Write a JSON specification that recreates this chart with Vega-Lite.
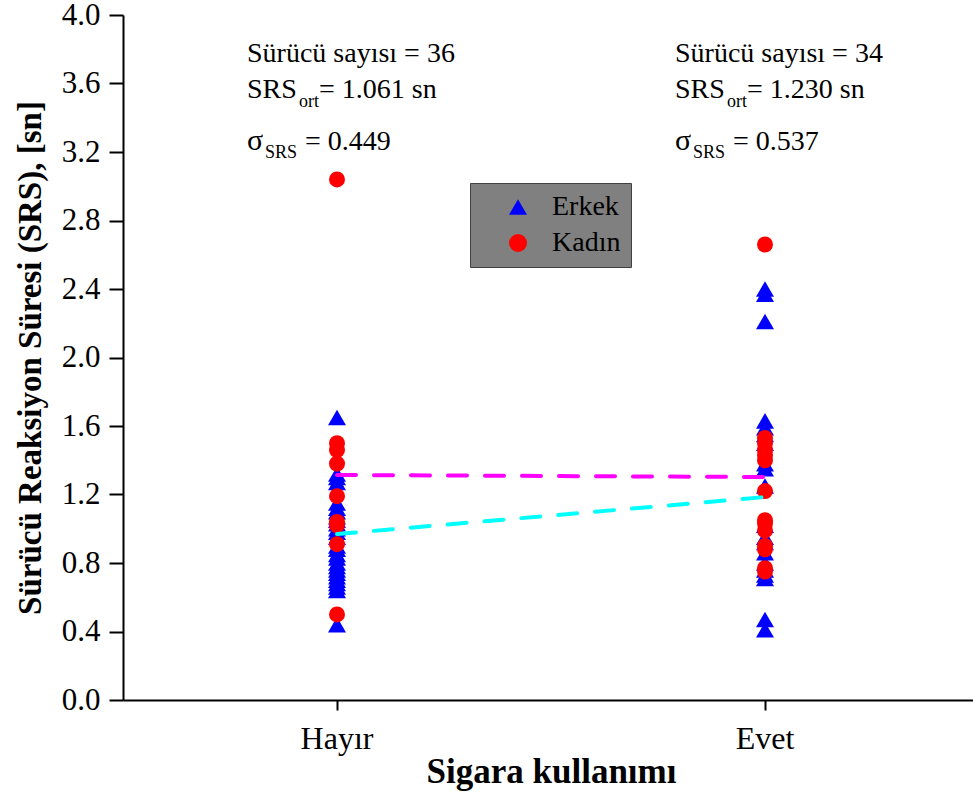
{
  "$schema": "https://vega.github.io/schema/vega-lite/v6.json",
  "width": 850,
  "height": 685,
  "autosize": {"type": "none"},
  "padding": {"left": 123, "top": 15, "right": 0, "bottom": 94},
  "background": "white",
  "config": {"view": {"stroke": null}, "font": "Liberation Serif"},
  "datasets": {
    "pts": [
      {"s": "Hayır", "g": "Erkek", "v": 1.65}, {"s": "Hayır", "g": "Erkek", "v": 1.32}, {"s": "Hayır", "g": "Erkek", "v": 1.30},
      {"s": "Hayır", "g": "Erkek", "v": 1.27}, {"s": "Hayır", "g": "Erkek", "v": 1.15}, {"s": "Hayır", "g": "Erkek", "v": 1.12},
      {"s": "Hayır", "g": "Erkek", "v": 1.10}, {"s": "Hayır", "g": "Erkek", "v": 1.07}, {"s": "Hayır", "g": "Erkek", "v": 1.05},
      {"s": "Hayır", "g": "Erkek", "v": 1.03}, {"s": "Hayır", "g": "Erkek", "v": 1.00}, {"s": "Hayır", "g": "Erkek", "v": 0.98},
      {"s": "Hayır", "g": "Erkek", "v": 0.95}, {"s": "Hayır", "g": "Erkek", "v": 0.90}, {"s": "Hayır", "g": "Erkek", "v": 0.88},
      {"s": "Hayır", "g": "Erkek", "v": 0.85}, {"s": "Hayır", "g": "Erkek", "v": 0.83}, {"s": "Hayır", "g": "Erkek", "v": 0.80},
      {"s": "Hayır", "g": "Erkek", "v": 0.78}, {"s": "Hayır", "g": "Erkek", "v": 0.76}, {"s": "Hayır", "g": "Erkek", "v": 0.74},
      {"s": "Hayır", "g": "Erkek", "v": 0.72}, {"s": "Hayır", "g": "Erkek", "v": 0.70}, {"s": "Hayır", "g": "Erkek", "v": 0.68},
      {"s": "Hayır", "g": "Erkek", "v": 0.66}, {"s": "Hayır", "g": "Erkek", "v": 0.64}, {"s": "Hayır", "g": "Erkek", "v": 0.44},
      {"s": "Hayır", "g": "Kadın", "v": 3.04}, {"s": "Hayır", "g": "Kadın", "v": 1.50}, {"s": "Hayır", "g": "Kadın", "v": 1.46},
      {"s": "Hayır", "g": "Kadın", "v": 1.38}, {"s": "Hayır", "g": "Kadın", "v": 1.19}, {"s": "Hayır", "g": "Kadın", "v": 1.04},
      {"s": "Hayır", "g": "Kadın", "v": 1.02}, {"s": "Hayır", "g": "Kadın", "v": 0.91}, {"s": "Hayır", "g": "Kadın", "v": 0.50},
      {"s": "Evet", "g": "Erkek", "v": 2.40}, {"s": "Evet", "g": "Erkek", "v": 2.37}, {"s": "Evet", "g": "Erkek", "v": 2.21},
      {"s": "Evet", "g": "Erkek", "v": 1.63}, {"s": "Evet", "g": "Erkek", "v": 1.59}, {"s": "Evet", "g": "Erkek", "v": 1.55},
      {"s": "Evet", "g": "Erkek", "v": 1.50}, {"s": "Evet", "g": "Erkek", "v": 1.38}, {"s": "Evet", "g": "Erkek", "v": 1.35},
      {"s": "Evet", "g": "Erkek", "v": 1.25}, {"s": "Evet", "g": "Erkek", "v": 1.02}, {"s": "Evet", "g": "Erkek", "v": 0.95},
      {"s": "Evet", "g": "Erkek", "v": 0.92}, {"s": "Evet", "g": "Erkek", "v": 0.86}, {"s": "Evet", "g": "Erkek", "v": 0.80},
      {"s": "Evet", "g": "Erkek", "v": 0.76}, {"s": "Evet", "g": "Erkek", "v": 0.73}, {"s": "Evet", "g": "Erkek", "v": 0.71},
      {"s": "Evet", "g": "Erkek", "v": 0.47}, {"s": "Evet", "g": "Erkek", "v": 0.41},
      {"s": "Evet", "g": "Kadın", "v": 2.66}, {"s": "Evet", "g": "Kadın", "v": 1.53}, {"s": "Evet", "g": "Kadın", "v": 1.50},
      {"s": "Evet", "g": "Kadın", "v": 1.46}, {"s": "Evet", "g": "Kadın", "v": 1.43}, {"s": "Evet", "g": "Kadın", "v": 1.40},
      {"s": "Evet", "g": "Kadın", "v": 1.22}, {"s": "Evet", "g": "Kadın", "v": 1.05}, {"s": "Evet", "g": "Kadın", "v": 1.03},
      {"s": "Evet", "g": "Kadın", "v": 0.99}, {"s": "Evet", "g": "Kadın", "v": 0.90}, {"s": "Evet", "g": "Kadın", "v": 0.88},
      {"s": "Evet", "g": "Kadın", "v": 0.77}, {"s": "Evet", "g": "Kadın", "v": 0.75}
    ],
    "means": [
      {"s": "Hayır", "g": "Erkek", "v": 0.969}, {"s": "Evet", "g": "Erkek", "v": 1.185},
      {"s": "Hayır", "g": "Kadın", "v": 1.314}, {"s": "Evet", "g": "Kadın", "v": 1.302}
    ],
    "ann": [
      {"s": "Hayır", "n": "Sürücü sayısı = 36", "srs": "= 1.061 sn", "sd": "= 0.449"},
      {"s": "Evet", "n": "Sürücü sayısı = 34", "srs": "= 1.230 sn", "sd": "= 0.537"}
    ]
  },
  "layer": [
    {
      "mark": {"type": "rule", "color": "#808080", "strokeWidth": 1, "strokeDash": [7, 6]},
      "encoding": {"x": {"datum": "Evet", "type": "nominal", "bandPosition": 0}}
    },
    {
      "mark": {"type": "rule", "color": "black", "strokeWidth": 2},
      "encoding": {"y": {"datum": 4, "type": "quantitative"}}
    },
    {
      "data": {"name": "pts"},
      "transform": [{"filter": "datum.g === 'Erkek'"}],
      "mark": {"type": "point", "filled": true, "opacity": 1, "size": 324, "strokeWidth": 0},
      "encoding": {
        "x": {
          "field": "s", "type": "nominal",
          "scale": {"type": "band", "domain": ["Hayır", "Evet"], "range": [0, 856], "paddingInner": 0, "paddingOuter": 0},
          "title": "Sigara kullanımı",
          "axis": {
            "labelAngle": 0, "labelAlign": "center", "labelFontSize": 32, "labelFont": "Liberation Serif", "labelColor": "black",
            "tickSize": 10, "tickWidth": 2, "tickColor": "black", "domainWidth": 2, "domainColor": "black",
            "labelPadding": 28, "titleFontSize": 35, "titleFontWeight": "bold", "titleFont": "Liberation Serif",
            "titleColor": "black", "titlePadding": 0, "grid": false
          }
        },
        "y": {
          "field": "v", "type": "quantitative",
          "scale": {"domain": [0, 4], "nice": false},
          "title": "Sürücü Reaksiyon Süresi (SRS), [sn]",
          "axis": {
            "values": [0, 0.2, 0.4, 0.6, 0.8, 1.0, 1.2, 1.4, 1.6, 1.8, 2.0, 2.2, 2.4, 2.6, 2.8, 3.0, 3.2, 3.4, 3.6, 3.8, 4.0],
            "format": ".1f",
            "labelExpr": "round(datum.value * 5) % 2 == 0 ? datum.label : ''",
            "tickSize": {"condition": {"test": "round(datum.value * 5) % 2 == 0", "value": 14}, "value": 8},
            "tickWidth": 2, "tickColor": "black", "domainWidth": 2, "domainColor": "black",
            "labelFontSize": 31, "labelFont": "Liberation Serif", "labelColor": "black", "labelPadding": 9,
            "labelOverlap": false, "labelFlush": false,
            "titleFontSize": 33, "titleFontWeight": "bold", "titleFont": "Liberation Serif", "titleColor": "black",
            "titlePadding": 14, "grid": false
          }
        },
        "color": {
          "field": "g", "type": "nominal",
          "scale": {"domain": ["Erkek", "Kadın"], "range": ["#0000ff", "#ff0000"]},
          "legend": {
            "title": null, "orient": "none", "legendX": 347, "legendY": 168,
            "fillColor": "#808080", "strokeColor": "#404040", "padding": 10,
            "symbolOffset": 24, "labelOffset": 20, "labelFont": "Liberation Serif", "labelFontSize": 28,
            "rowPadding": 8, "symbolStrokeWidth": 0, "symbolSize": 324,
            "encode": {
              "legend": {"update": {"strokeWidth": {"value": 3}}},
              "labels": {"update": {"fill": {"signal": "datum.value === 'Erkek' ? '#0000ff' : '#ff0000'"}}},
              "symbols": {"update": {"size": {"signal": "datum.value === 'Erkek' ? 324 : 256"}}}
            }
          }
        },
        "shape": {
          "field": "g", "type": "nominal",
          "scale": {"domain": ["Erkek", "Kadın"], "range": ["triangle-up", "circle"]}
        }
      }
    },
    {
      "data": {"name": "pts"},
      "transform": [{"filter": "datum.g === 'Kadın'"}],
      "mark": {"type": "point", "filled": true, "opacity": 1, "size": 256, "strokeWidth": 0},
      "encoding": {
        "x": {"field": "s", "type": "nominal"},
        "y": {"field": "v", "type": "quantitative"},
        "color": {"field": "g", "type": "nominal"},
        "shape": {"field": "g", "type": "nominal"}
      }
    },
    {
      "data": {"name": "means"},
      "mark": {"type": "line", "strokeWidth": 4, "strokeDash": [19, 18], "strokeCap": "round"},
      "encoding": {
        "x": {"field": "s", "type": "nominal"},
        "y": {"field": "v", "type": "quantitative"},
        "stroke": {"field": "g", "type": "nominal", "scale": {"domain": ["Erkek", "Kadın"], "range": ["#00ffff", "#ff00ff"]}, "legend": null}
      }
    },
    {
      "data": {"name": "ann"},
      "mark": {"type": "text", "align": "left", "baseline": "alphabetic", "dx": -90, "fontSize": 28, "font": "Liberation Serif", "color": "black"},
      "encoding": {"x": {"field": "s", "type": "nominal"}, "y": {"datum": 3.727, "type": "quantitative"}, "text": {"field": "n"}}
    },
    {
      "data": {"name": "ann"},
      "mark": {"type": "text", "align": "left", "baseline": "alphabetic", "dx": -90, "fontSize": 28, "font": "Liberation Serif", "color": "black"},
      "encoding": {"x": {"field": "s", "type": "nominal"}, "y": {"datum": 3.515, "type": "quantitative"}, "text": {"value": "SRS"}}
    },
    {
      "data": {"name": "ann"},
      "mark": {"type": "text", "align": "left", "baseline": "alphabetic", "dx": -38, "fontSize": 18, "font": "Liberation Serif", "color": "black"},
      "encoding": {"x": {"field": "s", "type": "nominal"}, "y": {"datum": 3.463, "type": "quantitative"}, "text": {"value": "ort"}}
    },
    {
      "data": {"name": "ann"},
      "mark": {"type": "text", "align": "left", "baseline": "alphabetic", "dx": -18, "fontSize": 28, "font": "Liberation Serif", "color": "black"},
      "encoding": {"x": {"field": "s", "type": "nominal"}, "y": {"datum": 3.515, "type": "quantitative"}, "text": {"field": "srs"}}
    },
    {
      "data": {"name": "ann"},
      "mark": {"type": "text", "align": "left", "baseline": "alphabetic", "dx": -90, "fontSize": 30, "font": "Liberation Serif", "color": "black"},
      "encoding": {"x": {"field": "s", "type": "nominal"}, "y": {"datum": 3.212, "type": "quantitative"}, "text": {"value": "σ"}}
    },
    {
      "data": {"name": "ann"},
      "mark": {"type": "text", "align": "left", "baseline": "alphabetic", "dx": -72, "fontSize": 18, "font": "Liberation Serif", "color": "black"},
      "encoding": {"x": {"field": "s", "type": "nominal"}, "y": {"datum": 3.165, "type": "quantitative"}, "text": {"value": "SRS"}}
    },
    {
      "data": {"name": "ann"},
      "mark": {"type": "text", "align": "left", "baseline": "alphabetic", "dx": -32, "fontSize": 28, "font": "Liberation Serif", "color": "black"},
      "encoding": {"x": {"field": "s", "type": "nominal"}, "y": {"datum": 3.212, "type": "quantitative"}, "text": {"field": "sd"}}
    }
  ]
}
